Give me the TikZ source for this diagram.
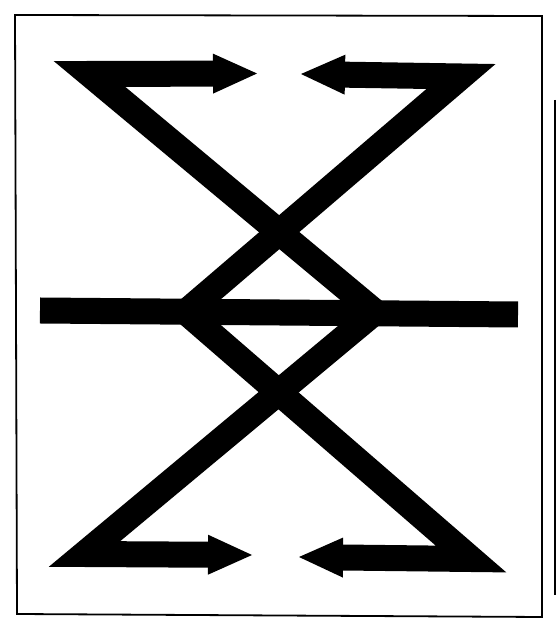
\documentclass[tikz,border=0pt]{standalone}
\usetikzlibrary{arrows.meta}
\begin{document}
\begin{tikzpicture}[line cap=butt,line join=miter,x=1pt,y=1pt,
  >={Triangle[length=44pt,width=40pt,line width=0pt]},
  bar/.style={line width=26pt},
  frame/.style={line width=1.8pt}]
  \useasboundingbox (0,0) rectangle (556,634);
  % frame
  \coordinate (fNW) at (15,619);
  \coordinate (fNE) at (542,618);
  \coordinate (fSE) at (542,17);
  \coordinate (fSW) at (17,20);
  \draw [frame] (fNW) -- (fNE) -- (fSE) -- (fSW) -- cycle;
  \draw [line width=1.5pt] (555,534) -- (555,39);
  % corners and tips
  \coordinate (tipNW) at (257,560.5);
  \coordinate (cornNW) at (89.5,560);
  \coordinate (vertE) at (375,322);
  \coordinate (cornSW) at (84.5,80);
  \coordinate (tipSW) at (252,79);
  \coordinate (tipNE) at (301,560);
  \coordinate (cornNE) at (461,557.5);
  \coordinate (vertW) at (186,322);
  \coordinate (cornSE) at (471,75);
  \coordinate (tipSE) at (299,77);
  \coordinate (barW) at (40,323.5);
  \coordinate (barE) at (518,319.5);
  % the two zigzags
  \draw [bar,<->] (tipNW) -- (cornNW) -- (vertE) -- (cornSW) -- (tipSW);
  \draw [bar,<->] (tipNE) -- (cornNE) -- (vertW) -- (cornSE) -- (tipSE);
  % middle bar
  \draw [bar] (barW) -- (barE);
\end{tikzpicture}
\end{document}
